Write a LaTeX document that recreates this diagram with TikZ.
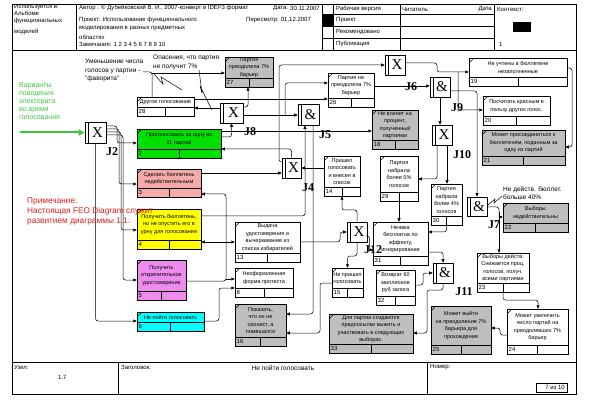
\documentclass[tikz,border=0pt]{standalone}
\usepackage{fontspec}
\setmainfont{Liberation Sans}
\newfontfamily\serifj{Liberation Serif}
\usetikzlibrary{arrows.meta,calc}
\definecolor{cgreen}{RGB}{0,224,0}
\definecolor{cpink}{RGB}{245,170,170}
\definecolor{cyel}{RGB}{255,255,0}
\definecolor{cviol}{RGB}{238,140,238}
\definecolor{ccyan}{RGB}{0,255,255}
\definecolor{cgray}{RGB}{190,190,190}
\definecolor{tgreen}{RGB}{60,200,60}
\definecolor{tred}{RGB}{220,30,30}
\tikzset{
 uobbox/.style={draw, line width=0.5pt, inner sep=0pt},
 juncbox/.style={draw, line width=0.6pt, fill=white, inner sep=0pt},
 conn/.style={draw, line width=0.5pt, rounded corners=2.5pt, -{Triangle[length=3.5pt,width=3pt]}},
 plainln/.style={draw, line width=0.5pt, rounded corners=2.5pt},
 boxtxt/.style={font=\fontsize{5.5}{7.5}\selectfont, align=center, inner sep=0pt},
 jlabel/.style={font=\serifj\bfseries\fontsize{12}{12}\selectfont, inner sep=0pt},
 hdr/.style={font=\fontsize{6}{7}\selectfont, anchor=west, inner sep=0pt},
 note/.style={font=\fontsize{6.5}{8.5}\selectfont, align=left, anchor=north west, inner sep=0pt},
}
\newcommand{\uob}[8][white]{%
 \pgfmathsetmacro{\uw}{#5-#3}%
 \pgfmathsetmacro{\uh}{#6-#4}%
 \pgfmathsetmacro{\ucx}{(#3+#5)/2}%
 \pgfmathsetmacro{\ucy}{(#4+#6)/2}%
 \pgfmathsetmacro{\uty}{(#4+#6-9)/2}%
 \pgfmathsetmacro{\usy}{#6-9}%
 \node[uobbox, fill=#1, minimum width=\uw pt, minimum height=\uh pt] (#2) at (\ucx,\ucy) {};
 \draw[line width=0.5pt] (#3,\usy) -- (#5,\usy) (\ucx,\usy) -- (\ucx,#6);
 \draw[line width=0.4pt] (#3+1,#4+4) -- (#3+4,#4+1);
 \node[anchor=west, font=\fontsize{6}{6}\selectfont, inner sep=0pt] (#2n) at (#3+1.5,#6-4.5) {#7};
 \node[boxtxt] (#2t) at (\ucx,\uty) {#8};
}
\newcommand{\junc}[6]{%
 \pgfmathsetmacro{\jw}{#4-#2}\pgfmathsetmacro{\jh}{#5-#3}%
 \pgfmathsetmacro{\jcx}{(#2+#4)/2}\pgfmathsetmacro{\jcy}{(#3+#5)/2}%
 \pgfmathsetmacro{\jsx}{(#2+4+#4)/2}%
 \node[juncbox, minimum width=\jw pt, minimum height=\jh pt] (#1) at (\jcx,\jcy) {};
 \draw[line width=0.6pt] (#2+3.5,#3) -- (#2+3.5,#5);
 \node[font=\serifj\fontsize{15}{15}\selectfont, inner sep=0pt] (#1s) at (\jsx,\jcy) {#6};
}
\begin{document}
\begin{tikzpicture}[x=1pt,y=-1pt]
\useasboundingbox (0,0) rectangle (593,411);
\fill[white] (0,0) rectangle (593,411);
% ---------- frame ----------
\draw[line width=0.7pt] (12,4) rectangle (576,394);
\draw[line width=0.6pt] (12,50) -- (576,50);
\draw[line width=0.5pt] (76,4) -- (76,50);
\draw[line width=0.5pt] (322,4)--(322,50) (333,4)--(333,50) (400,4)--(400,50) (494,4)--(494,50);
\draw[line width=0.5pt] (322,14)--(494,14) (322,26)--(494,26) (322,38)--(494,38);
\fill (322,14) rectangle (333,26);
\fill (513,22) rectangle (531,32);
\draw[line width=0.6pt] (12,362)--(576,362);
\draw[line width=0.5pt] (118,362)--(118,394) (427,362)--(427,394);
\draw[line width=0.5pt] (536,383) rectangle (567,392);
% header texts
\node[hdr] (h1) at (14,7) {Используется в:};
\node[hdr] (h2) at (14,13) {Альбоме};
\node[hdr] (h3) at (14,21) {функциональных};
\node[hdr] (h4) at (14,32) {моделей};
\node[hdr] (h5) at (79,8) {Автор : © Дубейковский В. И., 2007-конверт в IDEF3 формат};
\node[hdr] (h6) at (273,8) {Дата:};
\node[hdr] (h7) at (290,8) {30.11.2007};
\node[hdr] (h8) at (79,20) {Проект: Использование функционального};
\node[hdr] (h9) at (246,20) {Пересмотр: 01.12.2007};
\node[hdr] (h10) at (79,29) {моделирования в разных предметных};
\node[hdr] (h11) at (79,37) {областях};
\node[hdr] (h12) at (79,44) {Замечания: 1 2 3 4 5 6 7 8 9 10};
\node[hdr] (h13) at (336,9) {Рабочая версия};
\node[hdr] (h14) at (402,9) {Читатель};
\node[hdr, anchor=east] (h15) at (492,9) {Дата};
\node[hdr] (h16) at (497,9) {Контекст:};
\node[hdr] (h17) at (336,20) {Проект};
\node[hdr] (h18) at (336,32) {Рекомендовано};
\node[hdr] (h19) at (336,44) {Публикация};
\node[hdr] (h20) at (499,44) {1};
% footer texts
\node[hdr] (f1) at (14,367) {Узел:};
\node[hdr] (f2) at (58,377) {1.7};
\node[hdr] (f3) at (121,367) {Заголовок:};
\node[font=\fontsize{6.5}{7}\selectfont, inner sep=0pt] (f4) at (283,368) {Не пойти голосовать};
\node[hdr] (f5) at (430,367) {Номер:};
\node[hdr, anchor=east] (f6) at (565,387.5) {7 из 10};
% ---------- side notes ----------
\node[note, font=\fontsize{7}{8}\selectfont, text=tgreen] (gtext) at (19,82) {Варианты\\поведения\\электората\\во время\\голосования};
\node[note] (note1) at (85,59) {Уменьшение числа\\голосов у партии -\\"фаворита"};
\node[note] (note2) at (153,55) {Опасения, что партия\\не получит 7\%};
\node[note] (note3) at (503,186) {Не действ. бюллет.\\больше 40\%};
% ---------- UOB boxes ----------
\uob[cgray]{b27}{225}{57}{273}{87}{27}{Партия\\преодолела 7\%\\барьер}
\uob{b26}{328}{73}{374}{107}{26}{Партия не\\преодолела 7\%\\барьер}
\uob{b28}{137}{97}{194}{116}{28}{Другое голосование}
\uob[cgreen]{b2}{137}{129}{221}{158}{2}{Проголосовать за одну из\\11 партий}
\uob[cpink]{b3}{137}{169}{201}{197}{3}{Сделать бюллетень\\недействительным}
\uob[cyel]{b4}{137}{209}{201}{249}{4}{Получить бюллетень,\\но не опустить его в\\урну для голосования}
\uob[cviol]{b5}{137}{260}{186}{300}{5}{Получить\\открепительное\\удостоверение}
\uob[ccyan]{b6}{137}{312}{204}{331}{6}{Не пойти голосовать}
\uob{b13}{235}{222}{300}{262}{13}{Выдача\\удостоверения и\\вычеркивание из\\списка избирателей}
\uob{b8}{235}{268}{293}{297}{8}{Неоформленная\\форма протеста}
\uob[cgray]{b16}{235}{304}{286}{346}{16}{Показать,\\что он не\\сионист, а\\помешался}
\uob[cgray]{b33}{329}{314}{413}{353}{33}{Для партии создаются\\предпосылки выжить и\\участвовать в следующих\\выборах.}
\uob[cgray]{b25}{431}{306}{491}{354}{25}{Может выйти\\на преодоление 7\%\\барьера для\\прохождения}
\uob{b24}{507}{309}{568}{354}{24}{Может увеличить\\число партий на\\преодолевших 7\%\\барьер}
\uob{b23}{477}{253}{529}{292}{23}{Выборы действ.\\Снижается проц.\\голосов, получ.\\всеми партиями}
\uob[cgray]{b22}{503}{203}{568}{232}{22}{Выборы\\недействительны}
\uob{b31}{373}{222}{428}{265}{31}{Неявка\\бесплатна по\\эффекту,\\игнорирование}
\uob{b29}{380}{156}{418}{201}{29}{Партия\\набрала\\более 5\%\\голосов}
\uob{b30}{431}{184}{462}{225}{30}{Партия\\набрала\\более 4\%\\голосов}
\uob{b32}{376}{270}{415}{305}{32}{Возврат 60\\миллионов\\руб залога}
\uob{b15}{332}{268}{363}{297}{15}{Не пришел\\голосовать}
\uob{b14}{324}{156}{360}{196}{14}{Пришел\\голосовать\\и внесен в\\список}
\uob[cgray]{b18}{372}{110}{418}{149}{18}{Не влияет на\\процент,\\полученный\\партиями}
\uob{b19}{469}{58}{567}{86}{19}{Не учтены в бюллетене\\незаполненные}
\uob{b20}{483}{96}{550}{125}{20}{Посчитать красным в\\пользу других голос.}
\uob[cgray]{b21}{482}{130}{565}{165}{21}{Может присоединиться к\\бюллетеням, поданным за\\одну из партий}
% ---------- junctions ----------
\junc{J2}{85}{122}{106}{143}{X}
\junc{J8}{220}{103}{243}{123}{X}
\junc{J5}{298}{104}{319}{125}{\&}
\junc{J4}{282}{158}{301}{178}{X}
\junc{Xt}{385}{55}{405}{75}{X}
\junc{J6}{430}{77}{450}{97}{\&}
\junc{J10}{432}{125}{452}{145}{X}
\junc{Xm}{347}{222}{367}{242}{X}
\junc{J7}{467}{197}{487}{216}{\&}
\junc{J11}{433}{263}{453}{283}{\&}
% ---------- connectors ----------
\coordinate (gstart) at (20,132.5);
\draw[line width=2pt, tgreen, -{Triangle[length=6pt,width=6pt]}] (gstart) -- (J2.west);
\draw[conn] (J2.east |- 0,126) -- (117,126) -- (117,143) -- (b2.west |- 0,143);
\draw[conn] (J2.east |- 0,129) -- (119,129) -- (119,184) -- (b3.west |- 0,184);
\draw[conn] (J2.east |- 0,132) -- (121,132) -- (121,230) -- (b4.west |- 0,230);
\draw[conn] (J2.east |- 0,135) -- (123,135) -- (123,280) -- (b5.west |- 0,280);
\draw[conn] (J2.south) -- (J2.south |- 0,321) -- (b6.west |- 0,321);
\draw[conn] (b2.east |- 0,137) -- (J8.south |- 0,137) -- (J8.south);
\draw[conn] (J8.west |- 0,108) -- (b28.east |- 0,108);
\draw[conn] (J8.east |- 0,107) -- (248,107) -- (b27.south -| 248,0);
\draw[conn] (J8.east |- 0,115) -- (J5.west |- 0,115);
\coordinate (k1) at (285,115);
\draw[conn] (k1) -- (k1 |- 0,83) -- (b26.west |- 0,83);
\draw[conn] (b28.east |- 0,99) -- (b26.west |- 0,99);
\draw[conn] (b2.east |- 0,131) -- (b18.west |- 0,131);
\draw[conn] (b4.east |- 0,216) -- (305,216) -- (J5.south -| 305,0);
\draw[conn] (J5.south -| 313,0) -- (313,314) -- (b16.east |- 0,314);
\draw[conn] (b15.west |- 0,283) -- (320,283) -- (320,333) -- (b16.east |- 0,333);
\draw[conn] (J4.north) -- (J4.north |- 0,149) -- (b2.east |- 0,149);
\draw[conn] (b3.east |- 0,173) -- (J4.west |- 0,173);
\draw[conn] (b14.west |- 0,168) -- (J4.east |- 0,168);
\draw[conn] (J4.west |- 0,162) -- (279,162) -- (279,65) -- (Xt.west |- 0,65);
\draw[conn] (b5.east |- 0,281) -- (226,281) -- (226,194) -- (b3.east |- 0,194);
\coordinate (v4) at (226,242);
\draw[conn] (v4) -- (b4.east |- 0,242);
\draw[conn] (v4) -- (b13.west |- 0,242);
\coordinate (v8) at (226,279);
\draw[conn] (v8) -- (b8.west |- 0,279);
\draw[conn] (b6.east |- 0,321) -- (219,321) -- (219,288) -- (b8.west |- 0,288);
\draw[conn] (b13.east |- 0,242) -- (340,242) -- (340,232) -- (Xm.west |- 0,232);
\draw[conn] (Xm.north) -- (Xm.north |- 0,210) -- (b14.south |- 0,210) -- (b14.south);
\draw[conn] (Xm.south) -- (Xm.south |- 0,256) -- (b15.north |- 0,256) -- (b15.north);
\draw[conn] (Xm.east |- 0,236) -- (369.5,236) -- (369.5,250) -- (b31.west |- 0,250);
\draw[conn] (Xt.east |- 0,63) -- (437,63) -- (437,72) -- (b19.west |- 0,72);
\coordinate (k9) at (458,72);
\draw[conn] (k9) -- (k9 |- 0,110) -- (b20.west |- 0,110);
\draw[conn] (b26.east |- 0,86) -- (J6.west |- 0,86);
\draw[conn] (J6.south) -- (J6.south |- J10.north);
\draw[conn] (J6.east |- 0,91) -- (477,91) -- (J7.north);
\draw[conn] (b19.east |- 0,68) -- (572,68) -- (572,147) -- (b21.east |- 0,147);
\draw[conn] (J10.south -| 437,0) -- (437,179) -- (b29.east |- 0,179);
\draw[conn] (J10.south -| 447,0) -- (b30.north -| 447,0);
\draw[conn] (b29.south) -- (b29.south |- b31.north);
\draw[conn] (b30.south) -- (b30.south |- 0,232) -- (b31.east |- 0,232);
\draw[conn] (b31.east |- 0,252) -- (J11.north |- 0,252) -- (J11.north);
\draw[conn] (b32.east |- 0,285) -- (423,285) -- (423,273) -- (J11.west |- 0,273);
\draw[conn] (J11.south) -- (J11.south |- 0,290) -- (427,290) -- (427,333) -- (b33.east |- 0,333);
\draw[conn] (J7.east |- 0,207) -- (499,207) -- (499,217) -- (b22.west |- 0,217);
\coordinate (k7) at (499,212);
\draw[conn] (k7) -- (b23.north -| 499,0);
\draw[conn] (b23.south) -- (b23.south |- 0,300) -- (538,300) -- (b24.north -| 538,0);
\draw[conn] (b24.west |- 0,335) -- (500,335) -- (500,328) -- (b25.east |- 0,328);
% annotation connectors
\draw[plainln] (143,72) -- (152,72) -- (b28.north -| 152,0);
\draw[conn] (152,73) -- (b27.west |- 0,73);
\draw[line width=0.5pt] (153,73) -- (163,84) -- (161,77) -- (182,90);
\draw[line width=0.5pt] (199,70) -- (202,93) -- (200,86) -- (212,110);
\draw[line width=0.5pt] (488,205) -- (495,199) -- (494,203) -- (502,196);
% red note drawn over the boxes, as in the reference
\node[note, font=\fontsize{8.3}{9.7}\selectfont, text=tred] (rtext) at (27,198) {Примечание.\\Настоящая FEO Diagram служит\\развитием диаграммы 1.1.};
% ---------- junction labels ----------
\node[jlabel] (L2) at (112,152) {J2};
\node[jlabel] (L8) at (250,132) {J8};
\node[jlabel] (L5) at (325,135) {J5};
\node[jlabel] (L4) at (308,188) {J4};
\node[jlabel] (L6) at (411,87) {J6};
\node[jlabel] (L9) at (457,108) {J9};
\node[jlabel] (L10) at (462,155) {J10};
\node[jlabel] (L7) at (494,225) {J7};
\node[jlabel] (L11) at (464,292) {J11};
\node[jlabel] (L12) at (373,250) {J12};
\end{tikzpicture}
\end{document}
